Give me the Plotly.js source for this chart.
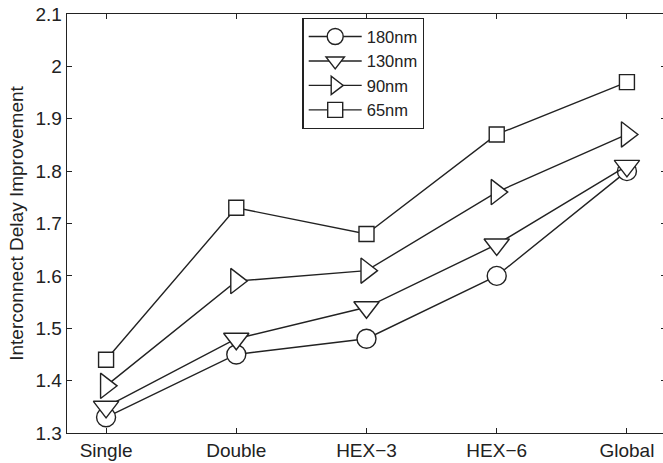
<!DOCTYPE html>
<html>
<head>
<meta charset="utf-8">
<script src="https://cdn.plot.ly/plotly-3.0.1.min.js"></script>
<style>
html,body{margin:0;padding:0;overflow:hidden;background:#fff;}
#chart{width:667px;height:463px;}
</style>
</head>
<body>
<div id="chart"></div>
<script>
var categories = ["Single", "Double", "HEX\u22123", "HEX\u22126", "Global"];
var seriesNames = ["180nm", "130nm", "90nm", "65nm"];
var v180 = [1.33, 1.45, 1.48, 1.60, 1.80];
var v130 = [1.35, 1.48, 1.54, 1.66, 1.81];
var v90  = [1.39, 1.59, 1.61, 1.76, 1.87];
var v65  = [1.44, 1.73, 1.68, 1.87, 1.97];
var yTicks = [1.3, 1.4, 1.5, 1.6, 1.7, 1.8, 1.9, 2, 2.1];

var seriesValues = [v180, v130, v90, v65];
var symbols = ["circle", "triangle-down", "triangle-right", "square"];
var sizes = [19, 22, 22, 15];
var ink = "#222222";
var xIdx = categories.map(function(c, i){ return i; });

var traces = seriesValues.map(function(vals, k){
  return {
    x: xIdx, y: vals, name: seriesNames[k], type: "scatter", mode: "lines+markers",
    line: {color: ink, width: 1.4},
    marker: {symbol: symbols[k], size: sizes[k], color: "#ffffff",
             line: {color: ink, width: 1.4}},
    cliponaxis: false
  };
});

var fam = "Liberation Sans, Arial, Helvetica, sans-serif";
var tickFont = {family: fam, size: 19, color: "#222"};
var layout = {
  width: 667, height: 463,
  margin: {l: 67, r: 1, t: 14, b: 30, pad: 0},
  paper_bgcolor: "#fff", plot_bgcolor: "#fff",
  font: tickFont,
  showlegend: true,
  xaxis: {
    range: [-0.3, 4.3], tickmode: "array", tickvals: xIdx, ticktext: categories,
    ticks: "inside", ticklen: 5, tickwidth: 1, tickcolor: ink,
    showline: true, linecolor: ink, linewidth: 1.3, mirror: "ticks",
    showgrid: false, zeroline: false, tickfont: tickFont
  },
  yaxis: {
    range: [1.3, 2.1], tickmode: "array", tickvals: yTicks,
    ticktext: yTicks.map(function(t){ return String(t); }),
    ticks: "inside", ticklen: 5, tickwidth: 1, tickcolor: ink,
    showline: true, linecolor: ink, linewidth: 1.3, mirror: "ticks",
    showgrid: false, zeroline: false, tickfont: tickFont,
    title: {text: "Interconnect Delay Improvement", font: {family: fam, size: 19, color: "#222"}, standoff: 6}
  },
  legend: {
    x: 0.393, y: 0.9905, xanchor: "left", yanchor: "top",
    bgcolor: "#fff", bordercolor: ink, borderwidth: 1.3,
    font: {family: fam, size: 16.5, color: "#222"}, itemwidth: 53, tracegroupgap: 0
  }
};

Plotly.newPlot("chart", traces, layout, {displayModeBar: false, staticPlot: true});
</script>
</body>
</html>
